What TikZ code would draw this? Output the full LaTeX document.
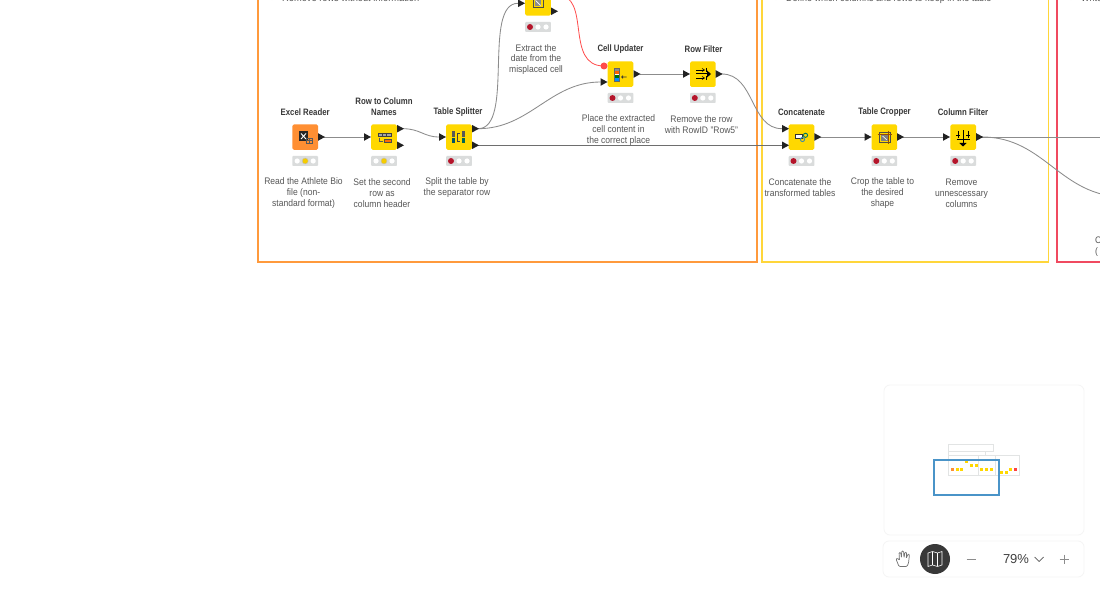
\documentclass[tikz,border=0pt]{standalone}
\usepackage{fontspec}
\setmainfont[FakeStretch=0.9]{Liberation Sans}
\newfontfamily\titlefont[FakeStretch=0.84]{Liberation Sans}
\newfontfamily\uifont{Liberation Sans}
\definecolor{kyellow}{HTML}{FFD800}
\definecolor{korange}{HTML}{FF8F33}
\definecolor{kport}{HTML}{222222}
\definecolor{kline}{HTML}{8C8C8C}
\definecolor{kdark}{HTML}{6E6E6E}
\definecolor{kred}{HTML}{B5152B}
\definecolor{kamber}{HTML}{F5CC00}
\definecolor{klamp}{HTML}{DADCDC}
\definecolor{kframeo}{HTML}{FF9A3C}
\definecolor{kframey}{HTML}{FFD63A}
\definecolor{kframer}{HTML}{F04A60}
\definecolor{kmini}{HTML}{E2E4E4}
\definecolor{kblue}{HTML}{4A94C8}
\tikzset{
  nodebox/.style={minimum width=25.6pt,minimum height=25.6pt,inner sep=0pt,rounded corners=1.6pt},
  yellowbox/.style={nodebox,fill=kyellow},
  orangebox/.style={nodebox,fill=korange},
  nodetitle/.style={align=center,inner sep=0pt,text=black!78,font=\titlefont\fontsize{9.3}{10.8}\selectfont\bfseries},
  nodelabel/.style={align=center,inner sep=0pt,text=black!66,font=\fontsize{9.5}{10.8}\selectfont},
  annotext/.style={inner sep=0pt,anchor=base west,text=black!66,font=\fontsize{10}{12}\selectfont},
  lampbar/.style={minimum width=25.6pt,minimum height=10pt,inner sep=0pt,fill=klamp,rounded corners=.8pt},
  conn/.style={draw=kline,line width=.85pt},
  darkconn/.style={draw=kdark,line width=.8pt},
  flowconn/.style={draw=red!70!white,line width=.8pt},
  frameline/.style={line width=1.1pt},
  card/.style={fill=white,draw=black!4,line width=.8pt,rounded corners=6pt},
  minirect/.style={draw=kmini,line width=.8pt}
}
\newcommand{\lampset}[4]{%
  \node[lampbar] (#3) at (#1,#2) {};
  \fill[white] (#1-8,#2) circle (2.6);
  \fill[white] (#1,#2) circle (2.6);
  \fill[white] (#1+8,#2) circle (2.6);
  \ifnum#4=1 \fill[kred] (#1-8,#2) circle (3);\else \filldraw[fill=kamber,draw=black!25,line width=.4pt] (#1,#2) circle (3);\fi}
\newcommand{\portmark}[3]{\coordinate (#1) at (#2,#3);}
\newcommand{\portout}[3]{\coordinate (#1) at (#2+6,#3);}
\begin{document}
\begin{tikzpicture}[x=1pt,y=-1pt]
\useasboundingbox (0,0) rectangle (1100,593);
\clip (0,0) rectangle (1100,593);
\fill[white] (0,0) rectangle (1100,593);
% annotation frames
\draw[frameline,draw=kframeo] (258,-30) rectangle (757,262);
\draw[frameline,draw=kframey] (762,-30) rectangle (1048.5,262);
\draw[frameline,draw=kframer] (1057,-30) rectangle (1130,262);
% clipped annotation texts
\node[annotext,font=\fontsize{10.3}{12}\selectfont] (t1) at (282,2) {Remove rows without information};
\node[annotext] (t2) at (786,2) {Define which columns and rows to keep in the table};
\node[annotext] (t3) at (1081,2) {Write};
\node[nodelabel,anchor=base west] (t4) at (1095,243.5) {C};
\node[nodelabel,anchor=base west] (t5) at (1095,254.5) {(};
\fill[black!20] (272,-1) circle (1.2);
\fill[black!20] (776,-1) circle (1.2);
\fill[black!20] (1071,-1) circle (1.2);
% node boxes
\node[orangebox] (excel) at (305.2,137.2) {};
\node[yellowbox] (rowcol) at (384,137.2) {};
\node[yellowbox] (split) at (459,137.2) {};
\node[yellowbox] (extract) at (538,2.8) {};
\node[yellowbox] (cellup) at (620.5,74.2) {};
\node[yellowbox] (rowfilt) at (702.8,74.2) {};
\node[yellowbox] (concat) at (801.5,137.2) {};
\node[yellowbox] (crop) at (884.3,137.2) {};
\node[yellowbox] (colfilt) at (963.2,137.2) {};
% ports
\coordinate (offpage) at (1125,197);
\coordinate (offright) at (1110,137);
\portout{excelO}{318}{137}
\portmark{rowcolI}{364}{137}
\portout{rowcolA}{397}{128.7}
\portmark{splitI}{439}{137}
\portout{splitA}{472}{128.7}
\portout{splitB}{472}{145.3}
\portmark{extractI}{518}{3.3}
\portout{extractA}{551}{-5}
\portout{cellO}{633.5}{74}
\coordinate (cellF) at (604,66);
\portmark{cellI}{600.5}{82}
\portmark{rowfiltI}{683}{74}
\portout{rowfiltO}{715.7}{74}
\portmark{concatA}{782}{128.7}
\portmark{concatB}{782}{145.3}
\portout{concatO}{814.3}{137}
\portmark{cropI}{864.5}{137}
\portout{cropO}{897}{137}
\portmark{colI}{943}{137}
\portout{colO}{976.2}{137}
% connectors
\draw[conn] (excelO) -- (rowcolI);
\draw[conn] (rowcolA) .. controls (420,128.7) and (424,137) .. (splitI);
\draw[conn] (splitA) .. controls (515,128.7) and (482,3.3) .. (extractI);
\draw[conn] (splitA) .. controls (530,128.7) and (550,82) .. (cellI);
\draw[darkconn] (splitB) -- (concatB);
\draw[flowconn] (extractA) .. controls (592,-5) and (564,66) .. (cellF);
\draw[conn] (cellO) -- (rowfiltI);
\draw[conn] (rowfiltO) .. controls (755,74) and (750,128.7) .. (concatA);
\draw[conn] (concatO) -- (cropI);
\draw[conn] (cropO) -- (colI);
\draw[conn] (colO) -- (offright);
\draw[conn] (colO) .. controls (1045,137) and (1060,197) .. (offpage);
% port marks above the lines
\foreach \px/\py in {318/137,364/137,397/128.7,397/145.3,439/137,472/128.7,472/145.3,518/3.3,551/11.3,633.5/74,600.5/82,683/74,715.7/74,782/128.7,782/145.3,814.3/137,864.5/137,897/137,943/137,976.2/137}
  \fill[kport] (\px,\py-3.8) -- (\px+7,\py) -- (\px,\py+3.8) -- cycle;
\fill[red!70!white] (cellF) circle (3.5);
% lamps
\lampset{305.2}{161}{lampA}{2}
\lampset{384}{161}{lampB}{2}
\lampset{459}{161}{lampC}{1}
\lampset{538}{27}{lampD}{1}
\lampset{620.5}{98}{lampE}{1}
\lampset{702.8}{98}{lampF}{1}
\lampset{801.5}{161}{lampG}{1}
\lampset{884.3}{161}{lampH}{1}
\lampset{963.2}{161}{lampI}{1}
% titles
\node[nodetitle] (tA) at (305.2,112.3) {Excel Reader};
\node[nodetitle] (tB) at (384,106.8) {Row to Column\\Names};
\node[nodetitle] (tC) at (458,112.3) {Table Splitter};
\node[nodetitle] (tD) at (620.5,48.8) {Cell Updater};
\node[nodetitle] (tE) at (703.5,48.8) {Row Filter};
\node[nodetitle] (tF) at (801.5,112.3) {Concatenate};
\node[nodetitle] (tG) at (884.5,112.3) {Table Cropper};
\node[nodetitle] (tH) at (963,112.3) {Column Filter};
% descriptions
\node[nodelabel] (dA) at (303.5,193.3) {Read the Athlete Bio\\file (non-\\standard format)};
\node[nodelabel] (dB) at (382,193.3) {Set the second\\row as\\column header};
\node[nodelabel] (dC) at (457,187.8) {Split the table by\\the separator row};
\node[nodelabel] (dD) at (536,59.5) {Extract the\\date from the\\misplaced cell};
\node[nodelabel] (dE) at (618.5,130.3) {Place the extracted\\cell content in\\the correct place};
\node[nodelabel] (dF) at (701.5,124.8) {Remove the row\\with RowID "Row5"};
\node[nodelabel] (dG) at (800,187.8) {Concatenate the\\transformed tables};
\node[nodelabel] (dH) at (882.5,193.3) {Crop the table to\\the desired\\shape};
\node[nodelabel] (dI) at (961.5,193.3) {Remove\\unnescessary\\columns};
% excel reader icon
\fill[black!85] (299,131.5) rectangle (308,141);
\draw[white,line width=.9pt] (301,133.5) -- (306,139) (306,133.5) -- (301,139);
\draw[black!65,line width=.6pt] (306,138) rectangle (312,143.5) (306,140.7) -- (312,140.7) (309,138) -- (309,143.5);
% row to column icon
\fill[black!35] (378,133) rectangle (391,136.5);
\draw[black!75,line width=.6pt] (378,133) rectangle (391,136.5) (382.3,133) -- (382.3,136.5) (386.6,133) -- (386.6,136.5);
\fill[orange!85!red] (384,139) rectangle (391,142.5);
\draw[black!70,line width=.6pt] (384,139) rectangle (391,142.5);
\draw[black!65,line width=.6pt] (379,138) -- (379,141) -- (383,141);
% splitter icon
\fill[black!65] (452,131.5) rectangle (455,137);
\fill[black!45!green!60!blue] (452,138) rectangle (455,143);
\draw[black!75,line width=.6pt] (459.5,133) -- (457.5,133) -- (457.5,141.5) -- (459.5,141.5);
\fill[black!65] (462,131.5) rectangle (465,137);
\fill[black!45!blue!60!green] (462,138) rectangle (465,143);
% extract icon
\draw[black!70,line width=.6pt] (533,-2) rectangle (543,7);
\fill[black!45] (535,0) rectangle (541,6);
\draw[white,line width=.7pt] (535.5,.5) -- (540.5,5.5);
% cell updater icon
\fill[white] (614,68) rectangle (619.5,81.5);
\fill[black!45] (614,68) rectangle (619.5,70.8);
\fill[orange!75!red] (614,71.4) rectangle (619.5,74.2);
\fill[green!45!black] (614,74.8) rectangle (619.5,77.6);
\fill[blue!45!cyan] (614,78.2) rectangle (619.5,81);
\draw[black!60,line width=.4pt] (614,68) rectangle (619.5,81.5);
\draw[black!80,line width=.6pt] (626.5,77) -- (621.5,77) (623,75.6) -- (621.5,77) -- (623,78.4);
% row filter icon
\draw[black,line width=.7pt] (696,70) -- (704,70) (696,78) -- (704,78) (706,68) -- (706,72) (706,76) -- (706,80);
\draw[black,line width=1pt] (696,74) -- (708,74);
\fill[black] (707,70.5) -- (711,74) -- (707,77.5) -- cycle;
\draw[black,line width=.6pt] (702,68.5) -- (704.5,70) -- (702,71.5) (702,76.5) -- (704.5,78) -- (702,79.5);
% concatenate icon
\fill[white] (795,134.8) rectangle (802.5,138.2);
\draw[black!80,line width=.7pt] (795,134.8) rectangle (802.5,138.2);
\draw[green!55!blue!85!black,line width=.9pt] (805.5,135.3) circle (2.1);
\draw[cyan!65!black,line width=.9pt] (802.5,139.5) circle (2.1);
% cropper icon
\draw[black!70,line width=.6pt] (879,132.5) rectangle (890,142.5);
\fill[black!50] (881,134.8) rectangle (888.5,141);
\draw[orange!60!black,line width=.5pt] (877.5,134.5) -- (891.5,134.5) (888.5,131) -- (888.5,144.5);
\draw[white,line width=.6pt] (882.5,136) -- (887,140);
% column filter icon
\draw[black,line width=.9pt] (963,130.5) -- (963,143.5) (956.5,139.5) -- (970,139.5);
\fill[black] (959.3,143) -- (966.7,143) -- (963,146.5) -- cycle;
\draw[black,line width=.8pt] (958,131) -- (958,138) (968,131) -- (968,138) (956.3,135) -- (959.7,135) (966.3,135) -- (969.7,135);
% minimap card
\node[card,minimum width=200pt,minimum height=150pt,inner sep=0pt] (mapcard) at (984,460) {};
\node[card,minimum width=201pt,minimum height=36pt,inner sep=0pt] (toolbar) at (983.5,559) {};
\draw[minirect] (948.3,444.3) rectangle (993,451.7);
\draw[minirect] (948.3,451.7) rectangle (985.6,455.7);
\draw[minirect] (948.3,455.7) rectangle (978.5,475.7);
\draw[minirect] (978.5,455.7) rectangle (995.7,475.7);
\draw[minirect] (995.7,455.7) rectangle (1019.7,475.7);
\foreach \mx/\my in {957/469,961.5/469,966.3/461.3,971/465,976/465,981.7/469,986.7/469,991.3/469,1001/472.3,1006/472.3,1010/469}
  \fill[kyellow] (\mx-1.5,\my-1.5) rectangle (\mx+1.5,\my+1.5);
\fill[korange] (951,467.5) rectangle (954,470.5);
\fill[red!75!white] (1014.2,467.5) rectangle (1017.2,470.5);
\draw[kblue,line width=1.3pt] (934,460) rectangle (999,495);
% toolbar
\node[circle,fill=black!78,minimum size=30pt,inner sep=0pt] (mapbtn) at (935,559) {};
\draw[white,line width=.6pt,line join=round] (928,553) -- (932.5,551.5) -- (937.5,553) -- (942,551.5) -- (942,565) -- (937.5,566.5) -- (932.5,565) -- (928,566.5) -- cycle (932.5,551.5) -- (932.5,565) (937.5,553) -- (937.5,566.5);
\draw[black!55,line width=.7pt,line join=round,rounded corners=1pt] (899,566.5) -- (896,559) -- (897.5,558) -- (899.5,560.5) -- (899,552.5) -- (900.7,552.5) -- (901.5,558) -- (901.7,551) -- (903.5,551) -- (904,558) -- (905,552) -- (906.7,552.5) -- (906.2,558.5) -- (908,554) -- (909.5,554.5) -- (908.5,563) -- (907,566.5) -- cycle;
\draw[black!45,line width=.9pt] (966.5,559) -- (975.5,559);
\draw[black!45,line width=.9pt] (1059.5,559) -- (1068.5,559) (1064,554.5) -- (1064,563.5);
\node[inner sep=0pt,text=black!75,font=\uifont\fontsize{13}{15}\selectfont] (zoomval) at (1016,559.5) {79\%};
\draw[black!65,line width=.7pt] (1034.5,557) -- (1039,561.5) -- (1043.5,557);
\end{tikzpicture}
\end{document}
